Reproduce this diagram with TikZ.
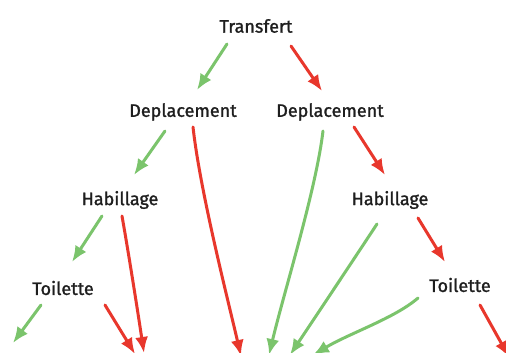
\documentclass[tikz,border=0pt]{standalone}
\usepackage{fontspec}
\setmainfont{Fira Sans}[BoldFont={Fira Sans},BoldFeatures={FakeBold=1.3}]
\usetikzlibrary{arrows.meta,calc}
\definecolor{gArrow}{HTML}{7BC46C}
\definecolor{rArrow}{HTML}{E8372C}
\definecolor{ink}{HTML}{1E1E1E}
\begin{document}
\begin{tikzpicture}[x=1pt,y=-1pt,
  lbl/.style={text=ink,font=\fontsize{18}{21}\selectfont\bfseries,inner sep=0pt},
  arr/.style={line width=3pt,line cap=round,-{Latex[length=16pt,width=13pt]}},
  garr/.style={arr,draw=gArrow},
  rarr/.style={arr,draw=rArrow}]
\clip (0,0) rectangle (506,353);
\fill[white] (0,0) rectangle (506,353);
\node[lbl] (tr) at (256,26) {Transfert};
\node[lbl] (dl) at (183,112) {Deplacement};
\node[lbl] (dr) at (330,112) {Deplacement};
\node[lbl] (hl) at (120,200) {Habillage};
\node[lbl] (hr) at (390,200) {Habillage};
\node[lbl] (tl) at (63,288) {Toilette};
\node[lbl] (tR) at (460,285) {Toilette};
\coordinate (e1) at (241,356);
\coordinate (e2) at (269,355);
\coordinate (e3) at (144,353);
\coordinate (e4) at (290,355);
\coordinate (e5) at (13,343);
\coordinate (e6) at (135,354);
\coordinate (e7) at (313,355);
\coordinate (e8) at (509,357);
% Transfert
\draw[garr] ($(tr)+(-29,18)$) -- ($(dl)+(14,-22)$);
\draw[rarr] ($(tr)+(35,20)$) -- ($(dr)+(-8,-21)$);
% Deplacement left
\draw[garr] ($(dl)+(-18,19)$) -- ($(hl)+(14,-25)$);
\draw[rarr] ($(dl)+(10,15)$) .. controls (200,190) and (226,292) .. (e1);
% Deplacement right
\draw[garr] ($(dr)+(-7,19)$) .. controls (316,190) and (284,292) .. (e2);
\draw[rarr] ($(dr)+(24,15)$) -- ($(hr)+(-5,-25)$);
% Habillage left
\draw[garr] ($(hl)+(-18,16)$) -- ($(tl)+(9,-26)$);
\draw[rarr] ($(hl)+(2,16)$) .. controls (128,250) and (136,300) .. (e3);
% Habillage right
\draw[garr] ($(hr)+(-13,24)$) .. controls (350,265) and (320,310) .. (e4);
\draw[rarr] ($(hr)+(28,18)$) -- ($(tR)+(-15,-23)$);
% Toilette left
\draw[garr] ($(tl)+(-22,17)$) -- (e5);
\draw[rarr] ($(tl)+(42,17)$) -- (e6);
% Toilette right
\draw[garr] ($(tR)+(-42,13)$) .. controls (395,318) and (350,333) .. (e7);
\draw[rarr] ($(tR)+(20,20)$) -- (e8);
\end{tikzpicture}
\end{document}
